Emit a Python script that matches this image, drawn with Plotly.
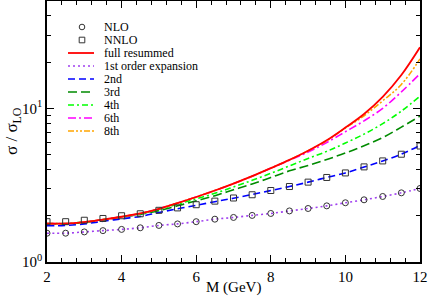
import math
import plotly.graph_objects as go

# ---------------- data ----------------
mass = [2.0, 2.5, 3.0, 3.5, 4.0, 4.5, 5.0, 5.5, 6.0, 6.5, 7.0,
        7.5, 8.0, 8.5, 9.0, 9.5, 10.0, 10.5, 11.0, 11.5, 12.0]

nlo = [1.54, 1.54, 1.57, 1.60, 1.63, 1.67, 1.73, 1.77, 1.83, 1.90, 1.95,
       2.01, 2.07, 2.15, 2.23, 2.32, 2.43, 2.54, 2.67, 2.82, 3.01]
nnlo = [1.83, 1.83, 1.87, 1.92, 2.00, 2.06, 2.17, 2.25, 2.36, 2.49, 2.61,
        2.74, 2.92, 3.10, 3.31, 3.55, 3.80, 4.16, 4.55, 5.03, 5.69]

full_resummed = [1.78, 1.78, 1.82, 1.89, 1.97, 2.07, 2.22, 2.42, 2.65, 2.92, 3.24,
                 3.62, 4.08, 4.62, 5.30, 6.20, 7.50, 9.20, 11.9, 16.5, 25.0]
order1 = [1.54, 1.54, 1.57, 1.60, 1.63, 1.67, 1.73, 1.77, 1.83, 1.90, 1.95,
          2.01, 2.07, 2.15, 2.23, 2.32, 2.43, 2.54, 2.67, 2.82, 3.01]
order2 = [1.72, 1.73, 1.77, 1.84, 1.91, 1.98, 2.10, 2.22, 2.34, 2.47, 2.60,
          2.75, 2.92, 3.10, 3.31, 3.55, 3.80, 4.15, 4.55, 5.03, 5.75]
order3 = [1.77, 1.77, 1.81, 1.88, 1.96, 2.04, 2.16, 2.32, 2.50, 2.70, 2.95,
          3.22, 3.55, 3.92, 4.25, 4.65, 5.12, 5.72, 6.45, 7.55, 8.90]
order4 = [1.78, 1.78, 1.82, 1.89, 1.97, 2.06, 2.20, 2.38, 2.58, 2.80, 3.08,
          3.40, 3.78, 4.22, 4.72, 5.25, 5.95, 6.80, 7.95, 9.60, 12.0]
order6 = [1.78, 1.78, 1.82, 1.89, 1.97, 2.07, 2.22, 2.42, 2.65, 2.92, 3.24,
          3.62, 4.08, 4.60, 5.20, 6.00, 7.05, 8.30, 10.0, 12.8, 16.8]
order8 = [1.78, 1.78, 1.82, 1.89, 1.97, 2.07, 2.22, 2.42, 2.65, 2.92, 3.24,
          3.62, 4.08, 4.62, 5.30, 6.15, 7.45, 8.95, 11.2, 14.3, 21.0]

x_ticks = [2, 4, 6, 8, 10, 12]
y_ticks = [1, 10]
y_ticktext = ["10<sup>0</sup>", "10<sup>1</sup>"]
y_minor = [2, 3, 4, 5, 6, 7, 8, 9, 20, 30, 40]

legend_labels = ["NLO", "NNLO", "full resummed", "1st order expansion",
                 "2nd", "3rd", "4th", "6th", "8th"]

# ---------------- styles ----------------
FONT = "Liberation Serif"
W, H = 429, 296
ML, MR, MT, MB = 47, 9, 1, 34
PW, PH = W - ML - MR, H - MT - MB

lines = [
    (order1, "#a040f0", "2px,3px", 1.6),
    (order2, "#0000ff", "7px,4px", 1.6),
    (order3, "#008b00", "9px,4px", 1.6),
    (order4, "#00ff00", "6px,3px,2px,3px", 1.6),
    (order6, "#ff00ff", "8px,3px,2px,3px", 1.6),
    (order8, "#ffa500", "6px,2px,2px,2px,2px,2px", 1.6),
    (full_resummed, "#ff0000", "solid", 1.8),
]

fig = go.Figure()
for vals, col, dash, w in lines:
    fig.add_trace(go.Scatter(x=mass, y=vals, mode="lines",
                             line=dict(color=col, dash=dash, width=w, shape="spline"),
                             showlegend=False))

fig.add_trace(go.Scatter(x=mass, y=nlo, mode="markers", showlegend=False,
                         marker=dict(symbol="circle-open", size=6, color="#333333",
                                     line=dict(width=1))))
fig.add_trace(go.Scatter(x=mass, y=nnlo, mode="markers", showlegend=False,
                         marker=dict(symbol="square-open", size=6, color="#333333",
                                     line=dict(width=1))))

# ---------------- manual legend (layout decoration) ----------------
def pxx(p):
    return (p - ML) / PW


def pxy(p):
    return (MT + PH - p) / PH


leg_y = [27, 40, 53, 66, 79, 92, 105, 118, 131]
leg_styles = [None, None,
              ("#ff0000", "solid", 1.8),
              ("#a040f0", "2px,3px", 1.6),
              ("#0000ff", "7px,4px", 1.6),
              ("#008b00", "9px,4px", 1.6),
              ("#00ff00", "6px,3px,2px,3px", 1.6),
              ("#ff00ff", "8px,3px,2px,3px", 1.6),
              ("#ffa500", "6px,2px,2px,2px,2px,2px", 1.6)]
shapes = []
annotations = []
for i, (lab, py) in enumerate(zip(legend_labels, leg_y)):
    yp = pxy(py)
    if i == 0 or i == 1:
        shapes.append(dict(type="circle" if i == 0 else "rect",
                           xref="paper", yref="paper",
                           xsizemode="pixel", ysizemode="pixel",
                           xanchor=pxx(82), yanchor=yp,
                           x0=-2.8, x1=2.8, y0=-2.8, y1=2.8,
                           line=dict(color="#333333", width=1)))
    else:
        col, dash, w = leg_styles[i]
        shapes.append(dict(type="line", xref="paper", yref="paper",
                           x0=pxx(68), x1=pxx(94), y0=yp, y1=yp,
                           line=dict(color=col, dash=dash, width=w)))
    annotations.append(dict(text=lab, xref="paper", yref="paper",
                            x=pxx(103), y=yp, xanchor="left", yanchor="middle",
                            showarrow=False, borderpad=0,
                            font=dict(family=FONT, size=12, color="black")))

annotations.append(dict(text="σ / σ<sub>LO</sub>", xref="paper", yref="paper",
                        x=pxx(13), y=pxy(131), textangle=-90,
                        xanchor="center", yanchor="middle", showarrow=False,
                        font=dict(family=FONT, size=17, color="black")))
annotations.append(dict(text="M (GeV)", xref="paper", yref="paper",
                        x=pxx(233), y=pxy(287), xanchor="center", yanchor="middle",
                        showarrow=False, font=dict(family=FONT, size=15, color="black")))

axis_common = dict(showline=True, linecolor="black", linewidth=1.5, mirror="ticks",
                   ticks="inside", tickcolor="black", tickwidth=1, ticklen=7,
                   showgrid=False, zeroline=False,
                   tickfont=dict(family=FONT, size=15, color="black"))

fig.update_layout(
    width=W, height=H,
    margin=dict(l=ML, r=MR, t=MT, b=MB, autoexpand=False),
    paper_bgcolor="white", plot_bgcolor="white",
    shapes=shapes, annotations=annotations,
    xaxis=dict(range=[2, 12], tickvals=x_ticks,
               minor=dict(dtick=0.4, tick0=2, ticks="inside", ticklen=4,
                          tickcolor="black", tickwidth=1, showgrid=False),
               **axis_common),
    yaxis=dict(type="log", range=[0, math.log10(50)], tickvals=y_ticks,
               ticktext=y_ticktext,
               minor=dict(tickmode="array", tickvals=y_minor, ticks="inside",
                          ticklen=4, tickcolor="black", tickwidth=1, showgrid=False),
               **axis_common),
)

fig.write_html("out.html", config={"displayModeBar": False},
               post_script="document.body.style.margin='0';document.body.style.padding='0';")
